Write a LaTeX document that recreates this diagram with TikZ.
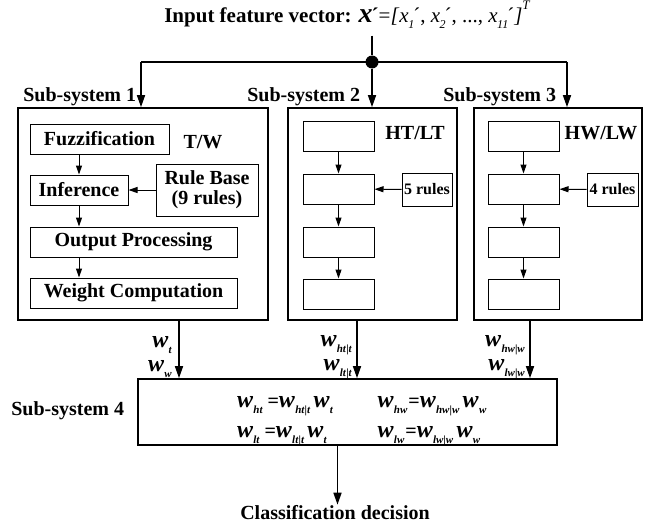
\documentclass[tikz,border=0pt]{standalone}
\usepackage{fontspec}
\setmainfont{Liberation Serif}
\usetikzlibrary{arrows.meta}
\newcommand{\vw}[1]{{\fontsize{24}{24}\selectfont\bfseries\itshape w}\kern0.3pt\raisebox{-0.3em}{\fontsize{11}{11}\selectfont\bfseries\itshape #1}}
\newcommand{\xs}[1]{\textit{x}\kern-0.5pt\raisebox{-0.3em}{\fontsize{12}{12}\selectfont\itshape #1}\kern-1pt´}
\begin{document}
\begin{tikzpicture}[x=1pt,y=-1pt]\fontsize{20}{23}\selectfont\bfseries
      \tikzstyle{outer}=[draw,line width=1.7pt,inner sep=0]
      \tikzstyle{blk}=[draw,line width=1pt,minimum height=30,inner sep=0]
      \tikzstyle{big}=[line width=1.6pt,-{Triangle[length=12pt,width=8pt]}]
      \tikzstyle{small}=[line width=1pt,-{Triangle[length=9pt,width=6pt]}]
      \useasboundingbox (0,0) rectangle (663,527);
      \node[font=\fontsize{21}{24}\selectfont\bfseries] (title) at (347,15) {Input feature vector: {\fontsize{28}{28}\selectfont\itshape x}\kern-1pt´\mdseries=\textit{[}\xs{1}, \xs{2}, ..., \xs{11}\textit{]}\raisebox{0.6em}{\fontsize{13}{13}\selectfont\itshape T}};
      \node[circle,fill,inner sep=0,minimum size=13] (dot) at (372,62) {};
      \coordinate (j1) at (141,62);
      \coordinate (j3) at (567,62);
      \node[outer,minimum width=250,minimum height=212] (sub1) at (143,214) {};
      \node[outer,minimum width=169,minimum height=212] (sub2) at (372.5,214) {};
      \node[outer,minimum width=168,minimum height=212] (sub3) at (558,214) {};
      \node[outer,minimum width=419,minimum height=66] (sub4) at (347.5,412) {};
      \node[anchor=east] (l1) at (143,97) {Sub-system 1};
      \node[anchor=east] (l2) at (367,97) {Sub-system 2};
      \node[anchor=east] (l3) at (563,97) {Sub-system 3};
      \node[anchor=east] (l4) at (131,411) {Sub-system 4};
      \node[blk,minimum width=139] (fuzz) at (99.5,139) {Fuzzification};
      \node (tw) at (203,142) {T/W};
      \node[blk,minimum width=98] (inf) at (79,190) {Inference};
      \node[blk,minimum width=102,minimum height=52,align=center] (rule) at (207,190) {Rule Base\\[-3pt](9 rules)};
      \node[blk,minimum width=207] (outp) at (133.5,242) {Output Processing};
      \node[blk,minimum width=207] (wcomp) at (133.5,293) {Weight Computation};
      \node[blk,minimum width=71] (a1) at (338.5,136) {};
      \node[blk,minimum width=71] (a2) at (338.5,189) {};
      \node[blk,minimum width=71] (a3) at (338.5,242) {};
      \node[blk,minimum width=71] (a4) at (338.5,294) {};
      \node (htlt) at (415,133) {HT/LT};
      \node[blk,minimum width=50,minimum height=33,font=\fontsize{16}{16}\selectfont\bfseries] (r5) at (427,189.5) {5 rules};
      \node[blk,minimum width=71] (b1) at (523.5,136) {};
      \node[blk,minimum width=71] (b2) at (523.5,189) {};
      \node[blk,minimum width=71] (b3) at (523.5,242) {};
      \node[blk,minimum width=71] (b4) at (523.5,294) {};
      \node (hwlw) at (601,133) {HW/LW};
      \node[blk,minimum width=51,minimum height=33,font=\fontsize{16}{16}\selectfont\bfseries] (r4) at (612.5,189.5) {4 rules};
      \node[anchor=east,align=right,inner sep=1pt] (w1) at (173,357) {\vw{t}\\[1pt]\vw{w}};
      \node[anchor=east,align=right,inner sep=1pt] (w2) at (353,357) {\vw{ht\textup{|}t}\\[1pt]\vw{lt\textup{|}t}};
      \node[anchor=east,align=right,inner sep=1pt] (w3) at (526,357) {\vw{hw\textup{|}w}\\[1pt]\vw{lw\textup{|}w}};
      \node[align=left] (eq1) at (285,421) {\vw{ht} =\vw{ht\textup{|}t}\,\vw{t}\\[7pt]\vw{lt} =\vw{lt\textup{|}t}\,\vw{t}};
      \node[align=left] (eq2) at (432,421) {\vw{hw}\kern1pt=\vw{hw\textup{|}w}\,\vw{w}\\[7pt]\vw{lw}\kern1pt=\vw{lw\textup{|}w}\,\vw{w}};
      \node[inner sep=1pt] (dec) at (335,513) {Classification decision};
      \draw[line width=1.6pt] (title.south -| dot) -- (dot);
      \draw[line width=1.6pt] (j1) -- (j3);
      \draw[big] (j1) -- (j1 |- sub1.north);
      \draw[big] (dot) -- (dot |- sub2.north);
      \draw[big] (j3) -- (j3 |- sub3.north);
      \draw[small] (inf.north |- fuzz.south) -- (inf.north);
      \draw[small] (inf.south) -- (inf.south |- outp.north);
      \draw[small] (inf.south |- outp.south) -- (inf.south |- wcomp.north);
      \draw[small] (rule.west) -- (inf.east);
      \draw[small] (a1) -- (a2);
      \draw[small] (a2) -- (a3);
      \draw[small] (a3) -- (a4);
      \draw[small] (r5) -- (a2);
      \draw[small] (b1) -- (b2);
      \draw[small] (b2) -- (b3);
      \draw[small] (b3) -- (b4);
      \draw[small] (r4) -- (b2);
      \draw[big] ([xshift=36]sub1.south) -- ([xshift=36]sub1.south |- sub4.north);
      \draw[big] ([xshift=-15.5]sub2.south) -- ([xshift=-15.5]sub2.south |- sub4.north);
      \draw[big] ([xshift=-28]sub3.south) -- ([xshift=-28]sub3.south |- sub4.north);
      \draw[big] ([xshift=-10]sub4.south) -- ([xshift=-10]sub4.south |- dec.north);
\end{tikzpicture}
\end{document}
